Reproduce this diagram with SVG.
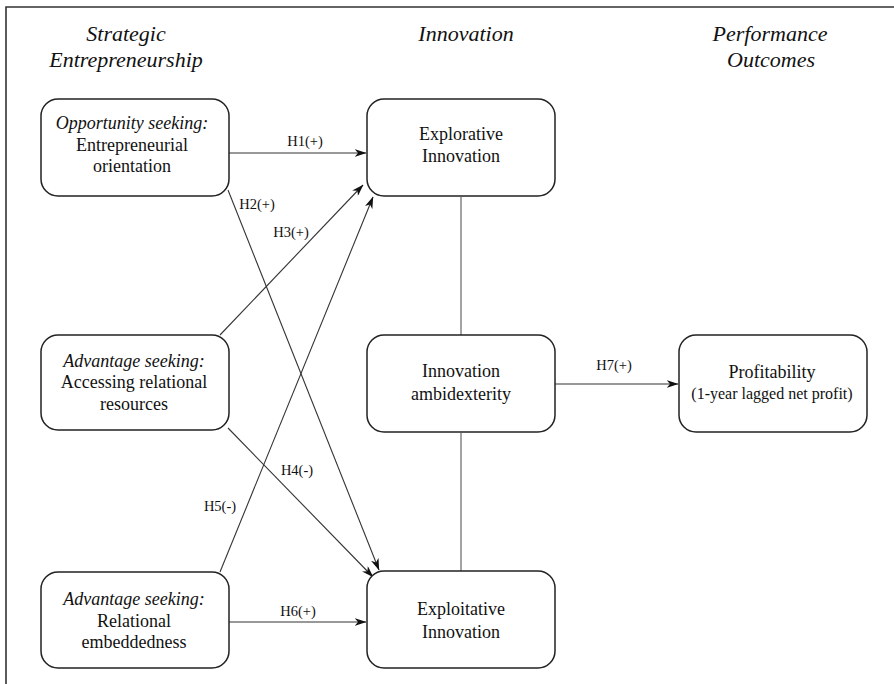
<svg xmlns="http://www.w3.org/2000/svg" width="894" height="684" viewBox="0 0 894 684">
<style>
  .box { fill: #fff; stroke: #222; stroke-width: 1.5; }
  .t { font-family: "Liberation Serif", "Times New Roman", serif; fill: #111; text-anchor: middle; }
  .n { font-size: 18px; }
  .i { font-style: italic; }
  .h { font-size: 22px; font-style: italic; }
  .lbl { font-size: 14.5px; }
  .sub { font-size: 16px; }
  .c { stroke: #333; stroke-width: 1.1; fill: none; }
  .v { stroke: #666; stroke-width: 1.2; fill: none; }
</style>
<defs>
  <marker id="arr" viewBox="0 0 12 8" refX="11.5" refY="4" markerWidth="12" markerHeight="8" markerUnits="userSpaceOnUse" orient="auto">
    <path d="M0,0 L12,4 L0,8 L3.5,4 Z" fill="#111"/>
  </marker>
</defs>
<rect width="894" height="684" fill="#fff"/>
<g id="frame">
  <path d="M6,684 L6,7 L894,7" fill="none" stroke="#333" stroke-width="1.6"/>
</g>
<g id="headers">
  <text class="t h" x="126" y="41">Strategic</text>
  <text class="t h" x="126" y="67">Entrepreneurship</text>
  <text class="t h" x="466" y="41">Innovation</text>
  <text class="t h" x="770" y="41">Performance</text>
  <text class="t h" x="771" y="67">Outcomes</text>
</g>
<g id="connectors">
  <line class="c" x1="229" y1="153" x2="366" y2="153" marker-end="url(#arr)"/>
  <line class="c" x1="228" y1="190" x2="379" y2="570" marker-end="url(#arr)"/>
  <line class="c" x1="220" y1="335" x2="363" y2="185" marker-end="url(#arr)"/>
  <line class="c" x1="220" y1="572" x2="373" y2="197" marker-end="url(#arr)"/>
  <line class="c" x1="228" y1="428" x2="373" y2="577" marker-end="url(#arr)"/>
  <line class="c" x1="229" y1="622" x2="366" y2="622" marker-end="url(#arr)"/>
  <line class="c" x1="555" y1="384" x2="678" y2="384" marker-end="url(#arr)"/>
  <line class="v" x1="461" y1="197" x2="461" y2="335"/>
  <line class="v" x1="461" y1="433" x2="461" y2="571"/>
  <text class="t lbl" x="305" y="146">H1(+)</text>
  <text class="t lbl" x="257" y="209">H2(+)</text>
  <text class="t lbl" x="291" y="237">H3(+)</text>
  <text class="t lbl" x="297" y="475">H4(-)</text>
  <text class="t lbl" x="220" y="511">H5(-)</text>
  <text class="t lbl" x="298" y="616">H6(+)</text>
  <text class="t lbl" x="614" y="370">H7(+)</text>
</g>
<g id="node-eo">
  <rect class="box" x="41" y="99" width="188" height="97" rx="17"/>
  <text class="t n i" x="132" y="129">Opportunity seeking:</text>
  <text class="t n" x="132" y="151">Entrepreneurial</text>
  <text class="t n" x="132" y="172">orientation</text>
</g>
<g id="node-explorative">
  <rect class="box" x="367" y="99" width="188" height="97" rx="17"/>
  <text class="t n" x="461" y="140">Explorative</text>
  <text class="t n" x="461" y="162">Innovation</text>
</g>
<g id="node-accessing">
  <rect class="box" x="41" y="335" width="188" height="95" rx="17"/>
  <text class="t n i" x="134" y="367">Advantage seeking:</text>
  <text class="t n" x="134" y="388">Accessing relational</text>
  <text class="t n" x="134" y="410">resources</text>
</g>
<g id="node-ambidexterity">
  <rect class="box" x="367" y="335" width="188" height="97" rx="17"/>
  <text class="t n" x="461" y="377">Innovation</text>
  <text class="t n" x="461" y="400">ambidexterity</text>
</g>
<g id="node-profitability">
  <rect class="box" x="679" y="335" width="188" height="97" rx="17"/>
  <text class="t n" x="772" y="378">Profitability</text>
  <text class="t sub" x="772" y="399">(1-year lagged net profit)</text>
</g>
<g id="node-embeddedness">
  <rect class="box" x="41" y="572" width="188" height="96" rx="17"/>
  <text class="t n i" x="134" y="605">Advantage seeking:</text>
  <text class="t n" x="134" y="627">Relational</text>
  <text class="t n" x="134" y="648">embeddedness</text>
</g>
<g id="node-exploitative">
  <rect class="box" x="367" y="571" width="188" height="97" rx="17"/>
  <text class="t n" x="461" y="615">Exploitative</text>
  <text class="t n" x="461" y="638">Innovation</text>
</g>
</svg>
